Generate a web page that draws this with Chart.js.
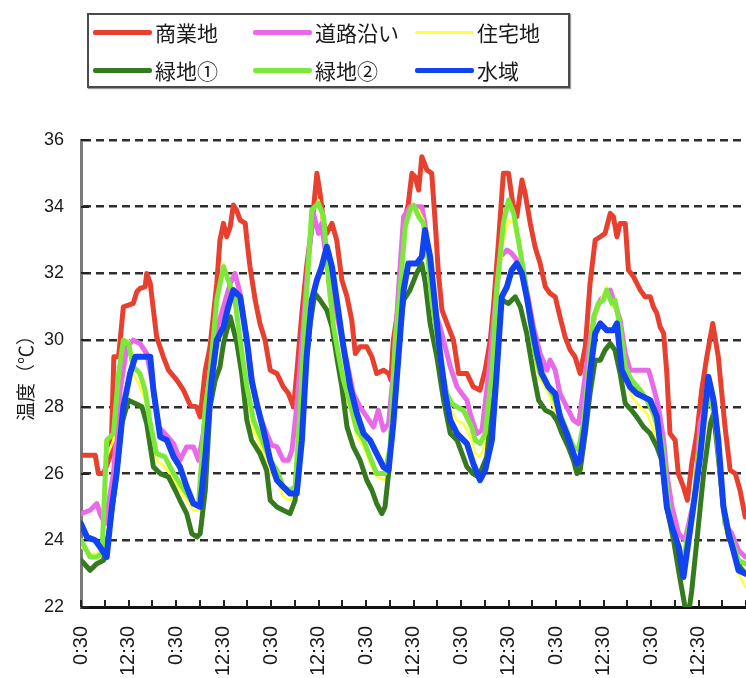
<!DOCTYPE html>
<html>
<head>
<meta charset="utf-8">
<script src="https://cdn.jsdelivr.net/npm/chart.js@4.4.0/dist/chart.umd.min.js"></script>
<style>
  html, body { margin: 0; padding: 0; background: #fff; overflow: hidden; }
  #wrap { position: relative; width: 746px; height: 678px; }
  #chart { position: absolute; left: 0; top: 0; }
  #legend {
    position: absolute; left: 87px; top: 13px; width: 479px; height: 71px;
    border: 2px solid #4a4a4a; box-shadow: 1px 1px 1px #9a9a9a; background: #fff;
    font-family: "Noto Sans CJK JP", sans-serif; font-size: 21px; color: #1a1a1a;
  }
  .item { position: absolute; height: 28px; display: flex; align-items: center; white-space: nowrap; }
  .sw { width: 59px; margin-right: 3px; border-radius: 2px; }
</style>
</head>
<body>
<div id="wrap">
  <canvas id="chart" width="746" height="678"></canvas>
  <div id="legend"></div>
</div>
<script>
// Series names (legend order)
const seriesNames = ['商業地', '道路沿い', '住宅地', '緑地①', '緑地②', '水域'];
// X-axis tick labels: every 12 hours starting at 0:30
const tickLabels = ['0:30', '12:30'];

// 商業地 (commercial) — hours since first 0:30, temperature °C
const commercialHours = [0, 3.6, 4.4, 5.7, 7.6, 8.3, 9.5, 10.7, 12.0, 13.2,
  14.1, 14.9, 16.2, 16.6, 17.5, 19.1, 20.8, 22.1, 24.2, 25.9,
  27.6, 29.2, 30.1, 31.4, 32.6, 34.3, 35.1, 36.0, 36.8, 37.7,
  38.5, 39.3, 40.2, 41.5, 41.9, 42.7, 44.0, 45.2, 46.5, 47.8,
  49.5, 51.1, 52.4, 53.7, 54.5, 55.8, 57.0, 58.3, 59.6, 60.4,
  61.3, 62.1, 63.4, 64.6, 65.9, 67.2, 68.4, 69.3, 70.5, 72.2,
  73.5, 74.7, 76.4, 77.7, 78.3, 78.9, 80.2, 81.5, 82.7, 83.6,
  84.4, 85.3, 86.1, 87.4, 88.6, 89.5, 90.3, 91.2, 92.8, 94.1,
  95.4, 97.5, 99.1, 100.8, 102.1, 103.4, 104.2, 105.5, 106.7, 108.0,
  109.2, 110.1, 111.4, 112.2, 113.5, 114.7, 116.0, 117.3, 118.5, 119.8,
  121.0, 122.3, 123.6, 124.8, 126.1, 127.4, 128.6, 129.9, 131.2, 132.4,
  133.7, 134.5, 135.4, 136.2, 137.5, 138.3, 139.6, 141.3, 142.5, 143.8,
  144.6, 145.5, 146.3, 147.2, 148.0, 148.8, 150.1, 150.9, 152.2, 153.2,
  154.3, 155.6, 156.8, 158.1, 159.6, 161.0, 162.7, 164.0, 165.3, 166.5,
  167.8];
const commercialTemps = [26.55, 26.55, 26.0, 26.0, 26.6, 29.5, 29.5, 31.0, 31.05, 31.1,
  31.45, 31.55, 31.6, 32.0, 31.7, 30.1, 29.5, 29.1, 28.8, 28.5,
  28.05, 28.0, 27.7, 29.1, 29.8, 31.7, 33.0, 33.5, 33.1, 33.4,
  34.05, 33.9, 33.6, 33.5, 33.0, 32.2, 31.2, 30.5, 30.0, 29.1,
  29.0, 28.6, 28.4, 28.0, 29.0, 30.8, 32.2, 33.4, 35.0, 34.4,
  33.5, 33.2, 33.5, 33.0, 31.8, 31.3, 30.6, 29.6, 29.8, 29.8,
  29.5, 29.0, 29.1, 29.0, 28.8, 30.0, 31.0, 33.4, 34.1, 35.0,
  34.9, 34.5, 35.5, 35.1, 35.0, 33.5, 32.0, 30.9, 30.4, 30.0,
  29.0, 29.0, 28.6, 28.5, 29.1, 30.0, 31.0, 33.0, 35.0, 35.0,
  34.0, 33.7, 34.8, 34.4, 33.5, 32.8, 32.3, 31.6, 31.4, 31.3,
  30.7, 30.1, 29.7, 29.5, 29.0, 29.8, 31.7, 33.0, 33.1, 33.2,
  33.8, 33.7, 33.1, 33.5, 33.5, 32.1, 31.9, 31.5, 31.3, 31.3,
  31.0, 30.8, 30.4, 30.2, 29.0, 27.2, 27.0, 26.0, 25.6, 25.2,
  26.3, 27.2, 28.5, 29.5, 30.5, 29.5, 27.4, 26.1, 26.0, 25.5,
  24.7];

// 道路沿い (roadside)
const roadHours = [0, 2.3, 4.0, 4.8, 6.1, 8.2, 9.9, 11.6, 13.2, 14.9,
  16.6, 17.9, 19.6, 21.2, 23.4, 25.0, 26.7, 28.4, 29.7, 30.9,
  33.5, 36.0, 37.7, 38.9, 40.2, 41.9, 43.6, 45.2, 46.9, 48.2,
  49.5, 51.1, 52.4, 53.3, 54.5, 56.2, 57.5, 58.7, 60.0, 60.8,
  61.7, 62.9, 64.6, 66.3, 67.6, 68.8, 70.5, 72.2, 73.9, 75.1,
  76.4, 77.7, 78.9, 80.2, 81.5, 83.1, 84.8, 86.1, 86.9, 88.2,
  89.5, 90.7, 92.0, 93.3, 95.0, 96.2, 97.5, 98.3, 100.0, 101.3,
  103.0, 104.2, 105.9, 107.6, 108.8, 110.1, 111.4, 112.6, 114.3, 116.0,
  117.7, 118.5, 119.8, 121.0, 122.7, 124.4, 125.7, 126.9, 128.6, 129.9,
  131.2, 133.7, 136.2, 137.5, 138.7, 140.4, 142.1, 143.4, 144.6, 145.9,
  147.2, 148.0, 149.3, 151.0, 152.6, 153.9, 155.2, 156.4, 158.1, 158.9,
  160.2, 161.5, 162.7, 164.4, 166.1, 167.8];
const roadTemps = [24.8, 24.9, 25.1, 24.8, 24.5, 26.0, 28.5, 29.8, 30.0, 29.9,
  29.6, 28.8, 27.4, 27.2, 26.9, 26.4, 26.8, 26.8, 26.4, 27.2,
  30.0, 31.0, 31.7, 32.0, 31.4, 30.0, 28.5, 27.7, 27.2, 26.85,
  26.8, 26.4, 26.4, 26.7, 28.0, 30.5, 32.5, 33.8, 33.2, 33.5,
  32.7, 31.8, 30.8, 29.8, 29.1, 28.4, 28.0, 27.7, 27.4, 27.9,
  27.3, 27.5, 29.0, 31.5, 33.7, 34.0, 34.0, 34.0, 33.5, 32.0,
  30.8, 30.4, 29.8, 29.2, 28.6, 28.4, 28.2, 27.8, 27.2, 27.3,
  29.0, 30.5, 32.5, 32.7, 32.6, 32.4, 32.2, 31.5, 30.4, 29.6,
  29.1, 29.4, 29.1, 28.4, 28.0, 27.6, 27.5, 28.5, 30.0, 30.8,
  31.2, 31.5, 30.6, 29.6, 29.1, 29.1, 29.1, 29.1, 28.6, 28.0,
  27.0, 26.0, 25.0, 24.2, 24.0, 24.7, 25.4, 27.5, 28.2, 28.4,
  28.0, 26.0, 24.5, 24.2, 23.7, 23.5];

// 住宅地 (residential)
const residentialHours = [0, 2.3, 4.0, 5.3, 6.5, 8.2, 9.5, 10.7, 12.0, 13.2,
  14.9, 16.2, 17.5, 19.1, 21.2, 23.4, 25.0, 26.7, 28.4, 29.7,
  31.4, 32.6, 34.3, 36.0, 37.2, 38.9, 40.2, 41.9, 43.6, 45.7,
  47.8, 49.5, 51.1, 52.8, 54.1, 55.4, 56.6, 58.3, 60.0, 61.3,
  62.5, 63.8, 65.0, 66.3, 68.0, 69.7, 71.4, 73.0, 74.7, 76.8,
  78.1, 79.4, 80.6, 81.9, 83.1, 84.0, 85.3, 86.5, 87.4, 88.6,
  89.9, 91.1, 92.4, 93.7, 94.9, 96.6, 98.7, 99.6, 100.8, 102.1,
  103.8, 105.0, 106.7, 108.0, 109.3, 110.5, 112.2, 113.5, 114.7, 116.0,
  117.7, 119.4, 121.0, 122.7, 124.4, 125.7, 126.9, 128.2, 129.5, 130.7,
  132.0, 132.8, 134.1, 134.9, 136.2, 137.5, 139.1, 141.3, 143.0, 144.6,
  146.3, 147.6, 148.4, 149.7, 151.0, 152.2, 153.5, 154.7, 156.4, 158.1,
  159.0, 160.2, 161.5, 162.7, 164.4, 166.1, 167.8];
const residentialTemps = [23.8, 23.6, 23.6, 23.7, 26.5, 27.0, 28.8, 30.0, 30.0, 29.0,
  28.6, 28.2, 27.2, 26.4, 26.2, 25.8, 25.5, 25.2, 24.9, 24.9,
  27.5, 28.8, 31.2, 32.3, 31.8, 31.0, 29.8, 28.3, 27.3, 26.7,
  26.0, 25.8, 25.3, 25.2, 25.4, 27.8, 30.5, 33.8, 34.2, 33.4,
  31.5, 30.2, 29.3, 28.5, 27.9, 27.1, 26.8, 26.3, 25.9, 25.8,
  26.6, 29.8, 31.5, 33.5, 33.8, 34.0, 33.9, 33.6, 32.6, 31.0,
  30.0, 29.0, 28.2, 27.9, 27.6, 27.5, 27.0, 26.6, 26.5, 26.9,
  28.8, 31.2, 33.0, 33.6, 33.5, 32.8, 31.5, 30.3, 29.3, 28.8,
  28.5, 28.0, 27.5, 27.0, 26.5, 26.3, 27.2, 28.8, 30.5, 31.0,
  31.4, 31.6, 31.0, 31.1, 30.0, 28.9, 28.3, 28.0, 27.8, 27.3,
  26.6, 25.5, 24.6, 23.8, 23.2, 22.8, 24.0, 24.8, 26.8, 28.0,
  28.1, 27.5, 25.8, 24.3, 23.8, 23.0, 22.6];

// 緑地① (green area 1)
const green1Hours = [0, 2.3, 4.0, 5.7, 7.4, 9.0, 10.3, 12.0, 15.4, 16.6,
  18.3, 20.0, 22.1, 23.8, 25.0, 26.7, 28.0, 29.3, 30.1, 31.4,
  32.6, 33.9, 35.1, 36.0, 37.7, 39.4, 40.6, 41.9, 43.1, 45.2,
  46.9, 47.8, 49.5, 51.1, 52.8, 54.1, 55.4, 56.6, 57.9, 59.1,
  60.4, 62.1, 63.4, 64.6, 65.9, 67.2, 68.8, 70.5, 72.2, 73.5,
  74.7, 76.0, 76.8, 77.7, 78.9, 80.2, 81.5, 83.1, 84.8, 86.1,
  87.0, 88.2, 89.9, 91.6, 93.3, 95.0, 97.5, 99.0, 100.4, 102.5,
  103.8, 105.0, 106.3, 108.0, 109.7, 111.0, 112.6, 114.3, 115.6, 117.3,
  119.0, 120.2, 121.5, 123.1, 124.4, 125.3, 126.1, 127.4, 128.6, 129.9,
  131.2, 132.4, 133.7, 134.9, 136.2, 137.5, 139.1, 140.4, 142.1, 143.8,
  145.5, 146.7, 148.0, 149.7, 151.4, 152.6, 153.5, 154.3, 155.6, 157.3,
  159.0, 159.8, 161.0, 162.3, 163.6, 164.8, 166.5, 167.8];
const green1Temps = [23.4, 23.1, 23.3, 23.4, 24.5, 26.0, 27.5, 28.2, 28.0, 27.5,
  26.2, 26.0, 25.9, 25.5, 25.2, 24.8, 24.2, 24.1, 24.2, 25.5,
  28.0, 28.8, 29.2, 29.9, 30.7, 29.9, 29.0, 27.6, 27.0, 26.6,
  26.1, 25.2, 25.0, 24.9, 24.8, 25.2, 27.0, 29.0, 30.5, 31.4,
  31.2, 30.9, 30.4, 29.5, 28.6, 27.4, 26.8, 26.4, 25.8, 25.5,
  25.1, 24.8, 25.0, 26.0, 28.0, 30.0, 31.2, 31.5, 32.0, 32.3,
  31.7, 30.5, 29.5, 28.2, 27.2, 27.0, 26.2, 26.0, 25.9, 26.5,
  28.0, 30.0, 31.2, 31.1, 31.3, 31.0, 30.2, 29.0, 28.2, 27.9,
  27.8, 27.6, 27.2, 26.8, 26.4, 26.0, 26.1, 27.2, 28.4, 29.4,
  29.4, 29.7, 29.9, 29.7, 29.0, 28.1, 27.9, 27.7, 27.4, 27.2,
  26.8, 26.4, 25.0, 24.0, 22.8, 22.0, 21.8, 22.5, 24.0, 26.0,
  27.5, 27.8, 26.5, 25.0, 24.1, 23.8, 23.2, 23.0];

// 緑地② (green area 2)
const green2Hours = [0, 2.3, 4.0, 5.3, 6.5, 8.2, 9.5, 10.7, 12.0, 13.2,
  14.9, 16.2, 17.5, 19.1, 21.2, 23.4, 25.0, 26.7, 28.4, 29.7,
  31.4, 32.6, 34.3, 36.0, 37.2, 38.9, 40.2, 41.9, 43.6, 45.7,
  47.8, 49.5, 51.1, 52.8, 54.1, 55.4, 56.6, 58.3, 60.0, 61.3,
  62.5, 63.8, 65.0, 66.3, 68.0, 69.7, 71.4, 73.0, 74.7, 76.8,
  78.1, 79.4, 80.6, 81.9, 83.1, 84.0, 85.3, 86.5, 87.4, 88.6,
  89.9, 91.1, 92.4, 93.7, 94.9, 96.6, 98.7, 99.6, 100.8, 102.1,
  103.8, 105.0, 106.7, 108.0, 109.3, 110.5, 112.2, 113.5, 114.7, 116.0,
  117.7, 119.4, 121.0, 122.7, 124.4, 125.7, 126.9, 128.2, 129.5, 130.7,
  132.0, 132.8, 134.1, 134.9, 136.2, 137.5, 139.1, 141.3, 143.0, 144.6,
  146.7, 147.6, 148.4, 149.7, 151.0, 152.2, 153.5, 154.7, 156.4, 158.1,
  159.0, 160.2, 161.5, 162.7, 164.4, 166.1, 167.8];
const green2Temps = [24.0, 23.5, 23.5, 23.6, 27.0, 27.2, 29.0, 30.0, 29.9, 29.2,
  29.0, 28.5, 27.5, 26.6, 26.5, 26.0, 25.7, 25.4, 25.1, 25.1,
  28.0, 29.0, 31.2, 32.2, 31.8, 31.2, 30.0, 28.6, 27.6, 27.0,
  26.4, 26.1, 25.6, 25.5, 25.6, 28.0, 30.7, 33.9, 34.1, 33.7,
  31.8, 30.4, 29.6, 28.8, 28.1, 27.3, 27.0, 26.5, 26.0, 26.0,
  26.8, 30.0, 31.5, 33.4, 33.9, 34.05, 33.7, 33.5, 32.8, 31.2,
  30.2, 29.2, 28.4, 28.1, 28.0, 27.9, 27.4, 27.0, 26.9, 27.2,
  29.0, 31.5, 33.5, 34.2, 33.8, 33.0, 31.8, 30.5, 29.6, 29.0,
  28.7, 28.3, 27.8, 27.3, 26.8, 26.7, 27.5, 29.0, 30.7, 31.1,
  31.2, 31.5, 31.1, 31.2, 30.4, 29.2, 28.8, 28.5, 28.2, 27.8,
  27.0, 26.0, 25.0, 24.2, 23.8, 23.4, 24.3, 25.0, 27.0, 28.1,
  28.2, 27.7, 26.0, 24.5, 24.0, 23.4, 23.3];

// 水域 (water area)
const waterHours = [0, 1.5, 3.6, 4.8, 6.5, 7.8, 9.0, 10.7, 12.4, 13.7,
  17.5, 18.3, 20.0, 21.7, 23.4, 25.0, 26.7, 28.4, 30.1, 31.4,
  33.0, 34.3, 36.0, 37.2, 38.5, 40.2, 41.9, 43.1, 44.4, 46.1,
  47.8, 49.5, 51.1, 52.8, 54.5, 55.8, 57.0, 58.3, 59.6, 60.8,
  62.1, 63.4, 64.6, 66.3, 68.0, 69.7, 71.4, 73.0, 74.7, 76.4,
  77.7, 78.9, 80.2, 81.5, 82.7, 84.8, 86.1, 86.9, 88.2, 89.5,
  90.7, 92.0, 93.3, 95.0, 97.5, 99.1, 100.8, 102.1, 103.8, 105.0,
  106.3, 107.6, 108.8, 110.1, 111.4, 112.6, 113.9, 115.2, 116.4, 118.1,
  119.8, 121.0, 122.7, 124.4, 125.3, 126.1, 127.4, 128.6, 129.9, 131.2,
  132.8, 134.5, 135.4, 136.6, 138.7, 140.4, 142.1, 143.8, 145.5, 146.7,
  148.0, 149.3, 151.0, 152.2, 153.5, 154.7, 156.4, 157.7, 158.5, 159.8,
  161.0, 162.3, 163.6, 164.8, 166.1, 167.8];
const waterTemps = [24.5, 24.1, 24.0, 23.8, 23.5, 25.0, 26.0, 28.0, 29.0, 29.5,
  29.5, 28.5, 27.1, 27.0, 26.5, 26.2, 25.6, 25.1, 25.0, 26.5,
  28.8, 30.0, 30.4, 31.0, 31.5, 31.3, 30.0, 28.8, 28.1, 27.3,
  26.4, 25.8, 25.6, 25.4, 25.4, 27.0, 29.5, 31.2, 31.8, 32.2,
  32.8, 32.2, 31.2, 29.8, 28.6, 27.8, 27.2, 27.0, 26.6, 26.2,
  26.1, 27.5, 29.5, 31.5, 32.3, 32.3, 32.5, 33.3, 32.5, 31.0,
  29.6, 28.4, 27.6, 27.2, 26.9, 26.3, 25.8, 26.1, 27.0, 29.0,
  31.3, 31.6, 32.1, 32.3, 32.0, 31.3, 30.4, 29.6, 29.0, 28.6,
  28.4, 27.7, 27.2, 26.6, 26.3, 26.4, 27.5, 29.0, 30.2, 30.5,
  30.3, 30.3, 30.5, 29.1, 28.6, 28.4, 28.3, 28.2, 27.7, 26.5,
  25.0, 24.4, 23.8, 22.9, 24.0, 25.0, 26.5, 28.0, 28.9, 28.2,
  27.0, 25.0, 24.2, 23.7, 23.1, 23.0];

const seriesColors = ['#e8402f', '#e96ae8', '#ffff3a', '#357a1f', '#7de83c', '#1243f0'];
const seriesWidths = [5, 5, 2.5, 5, 5, 6];
const swatchHeights = [5, 5, 3, 5, 5, 5];

const toPoints = (hours, temps) => hours.map((h, i) => ({ x: h, y: temps[i] }));
const seriesData = [
  toPoints(commercialHours, commercialTemps),
  toPoints(roadHours, roadTemps),
  toPoints(residentialHours, residentialTemps),
  toPoints(green1Hours, green1Temps),
  toPoints(green2Hours, green2Temps),
  toPoints(waterHours, waterTemps)
];

// Short tick marks pointing into the plot area
const insideTicks = {
  id: 'insideTicks',
  beforeDatasetsDraw(chart) {
    const { ctx, chartArea, scales: { x, y } } = chart;
    ctx.save();
    ctx.strokeStyle = '#222';
    ctx.lineWidth = 2;
    ctx.beginPath();
    x.ticks.forEach(t => {
      const px = Math.round(x.getPixelForValue(t.value));
      ctx.moveTo(px, chartArea.bottom);
      ctx.lineTo(px, chartArea.bottom - 7);
    });
    y.ticks.forEach(t => {
      const py = Math.round(y.getPixelForValue(t.value));
      ctx.moveTo(chartArea.left, py);
      ctx.lineTo(chartArea.left + 8, py);
    });
    ctx.stroke();
    ctx.restore();
  }
};

new Chart(document.getElementById('chart'), {
  type: 'line',
  data: {
    datasets: seriesNames.map((name, i) => ({
      label: name,
      data: seriesData[i],
      borderColor: seriesColors[i],
      backgroundColor: seriesColors[i],
      borderWidth: seriesWidths[i],
      pointRadius: 0,
      tension: 0,
      borderJoinStyle: 'round',
      borderCapStyle: 'round',
      order: seriesNames.length - i
    }))
  },
  options: {
    responsive: false,
    animation: false,
    devicePixelRatio: 1,
    layout: { padding: { top: 140, left: 0, right: 0, bottom: 0 } },
    plugins: { legend: { display: false }, tooltip: { enabled: false } },
    scales: {
      x: {
        type: 'linear',
        min: 0,
        max: 168,
        afterBuildTicks: axis => {
          const ticks = [];
          for (let v = 0; v <= 168; v += 6) ticks.push({ value: v });
          axis.ticks = ticks;
        },
        afterFit: axis => { axis.height = 71; axis.paddingLeft = 0; axis.paddingRight = 0; },
        grid: { display: true, drawOnChartArea: false, drawTicks: false, color: 'rgba(0,0,0,0)' },
        border: { display: true, color: '#111', width: 3 },
        ticks: {
          autoSkip: false,
          maxRotation: 90,
          minRotation: 90,
          padding: 19,
          color: '#1a1a1a',
          font: { family: 'Liberation Sans', size: 20 },
          callback: v => (v % 24 === 0 && v < 168) ? tickLabels[0] : (v % 24 === 12 ? tickLabels[1] : '')
        }
      },
      y: {
        min: 22,
        max: 36,
        afterFit: axis => { axis.width = 81; axis.paddingTop = 0; axis.paddingBottom = 0; },
        grid: {
          drawTicks: false,
          lineWidth: 2.5,
          color: c => (c.tick && c.tick.value === 22) ? 'rgba(0,0,0,0)' : '#2e2e2e'
        },
        border: { display: true, color: '#7a7a7a', width: 3, dash: [8, 5] },
        ticks: {
          stepSize: 2,
          padding: 17,
          color: '#1a1a1a',
          font: { family: 'Liberation Sans', size: 18 }
        },
        title: {
          display: true,
          text: '温度（℃）',
          color: '#1a1a1a',
          font: { family: 'Noto Sans CJK JP', size: 19 },
          padding: { top: 14, bottom: 0 }
        }
      }
    }
  },
  plugins: [insideTicks]
});

// Boxed legend laid out on a fixed 3-column grid
const legend = document.getElementById('legend');
const colLeft = [4, 164, 326];
const rowTop = [3, 41];
seriesNames.forEach((name, i) => {
  const item = document.createElement('div');
  item.className = 'item';
  item.style.left = colLeft[i % 3] + 'px';
  item.style.top = rowTop[Math.floor(i / 3)] + 'px';
  const sw = document.createElement('span');
  sw.className = 'sw';
  sw.style.height = swatchHeights[i] + 'px';
  sw.style.background = seriesColors[i];
  const label = document.createElement('span');
  label.textContent = name;
  item.appendChild(sw);
  item.appendChild(label);
  legend.appendChild(item);
});
</script>
</body>
</html>
